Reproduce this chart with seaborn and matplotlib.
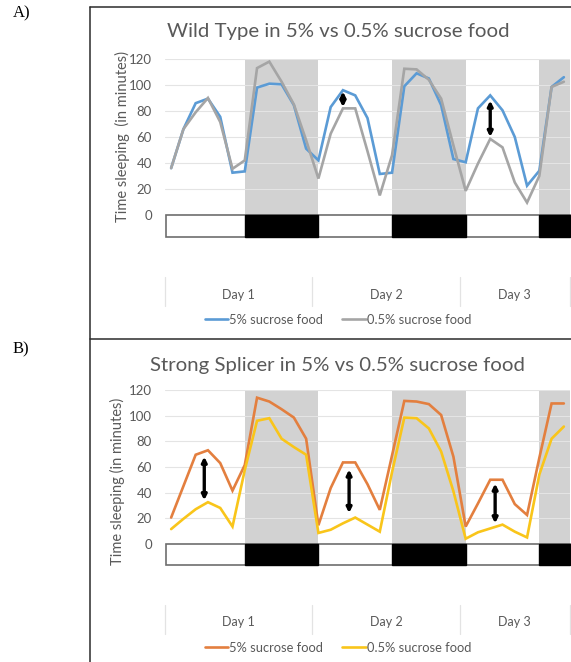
import numpy as np
import pandas as pd
import matplotlib
matplotlib.use("Agg")
import matplotlib.pyplot as plt
from matplotlib.patches import Rectangle
from matplotlib.lines import Line2D
from matplotlib.transforms import blended_transform_factory
import seaborn as sns

# Sleep per 2-hour bin (minutes), 12 bins per day, 33 bins in total
bins_per_day = 12
day_labels = ["Day 1", "Day 2", "Day 3"]
series_names = ["5% sucrose food", "0.5% sucrose food"]

wt_5pct = [36, 66, 86, 89.5, 75.5, 32.5, 33.5, 98, 101, 100.5, 84.5, 51, 42, 83, 96, 92,
           74.5, 31.5, 32.5, 99, 109, 105, 84.5, 43, 40.5, 82, 92, 80.5, 60, 22.5, 34, 98.5, 106]
wt_05pct = [36, 66, 79, 90, 71.5, 35.5, 42, 113, 118, 102.5, 85, 57.5, 28, 62.5, 82, 82,
            49, 15, 46, 112.5, 112, 104, 89.5, 53.5, 18.5, 39.5, 58.5, 52, 25, 9.5, 30, 98.5, 102.5]

ss_5pct = [20.5, 45, 69.5, 73, 63, 41.5, 61.5, 114, 111, 105, 98.5, 82, 14.5, 43.5, 63.5, 63.5,
           46.5, 26.5, 69, 111.5, 111, 109, 100.5, 68, 13.5, 31.5, 50, 50, 31, 22.5, 67, 109.5, 109.5]
ss_05pct = [11.5, 19.5, 27, 32.5, 28, 13.5, 57.5, 96, 98, 82, 75.5, 69.5, 8.5, 11, 16, 20.5,
            15, 9.5, 56, 98.5, 98, 90, 72, 41, 4, 9, 12, 15, 9.5, 5, 54, 82, 91.5]

# Lights-off periods (bin positions)
dark_start = [6, 18, 30]
dark_end = [12, 24, 32.5]

# Differences highlighted with double arrows: (bin, low, high)
wt_arrows = [(14, 83, 95), (26, 60, 88)]
ss_arrows = [(2.7, 34, 68), (14.5, 24, 58), (26.4, 16, 47)]

W, H = 571, 662
sns.set_theme(style="white")
plt.rcParams["font.family"] = ["Lato", "DejaVu Sans"]
fig = plt.figure(figsize=(W / 100, H / 100), dpi=100)
fig.patch.set_facecolor("white")

TXT = "#595959"


def fx(x):
    return x / W


def fy(y):
    return 1 - y / H


def panel(ax_box, a, b, colors, arrows, title, title_y, ylabel, ylabel_xy, ylow,
          day_y, sep_y, legend_y):
    left, top, right, bottom = ax_box
    ax = fig.add_axes([fx(left), fy(bottom), fx(right) - fx(left), fy(top) - fy(bottom)])
    n = len(a)
    df = pd.DataFrame({
        "bin": list(range(n)) * 2,
        "sleep": list(a) + list(b),
        "food": [series_names[0]] * n + [series_names[1]] * n,
    })
    ax.set_xlim(-0.5, n - 0.5)
    ax.set_ylim(ylow, 120)
    for s, e in zip(dark_start, dark_end):
        ax.axvspan(s, e, color="#D2D2D2", lw=0, zorder=0.2)
    ax.set_yticks(range(0, 121, 20))
    ax.grid(axis="y", color="#E4E4E4", lw=0.8)
    ax.set_axisbelow(True)
    sns.lineplot(data=df, x="bin", y="sleep", hue="food", palette=colors, ax=ax,
                 lw=1.9, legend=False, zorder=3)
    for ln in ax.lines:
        ln.set_solid_joinstyle("miter")
    # light/dark bar
    ax.add_patch(Rectangle((-0.45, ylow), n - 0.05, -ylow, facecolor="white",
                           edgecolor="#6E6E6E", lw=1.2, zorder=4, clip_on=False))
    for s, e in zip(dark_start, dark_end):
        ax.add_patch(Rectangle((s, ylow), e - s, -ylow, facecolor="black",
                               edgecolor="black", lw=1, zorder=5, clip_on=False))
    for x, lo, hi in arrows:
        ax.annotate("", xy=(x, hi), xytext=(x, lo),
                    arrowprops=dict(arrowstyle="<|-|>", color="black", lw=2.4,
                                    mutation_scale=7, shrinkA=0, shrinkB=0), zorder=6)
    for sp in ax.spines.values():
        sp.set_visible(False)
    ax.set_xticks([])
    ax.tick_params(axis="y", length=0, pad=9.5, labelsize=9.5, labelcolor=TXT)
    ax.set_xlabel("")
    ax.set_ylabel("")
    fig.text(fx(ylabel_xy[0]), fy(ylabel_xy[1]), ylabel, rotation=90, ha="center",
             va="center", fontsize=10.5, color=TXT)
    fig.text(fx(338), fy(title_y), title, ha="center", va="center", fontsize=14.7, color=TXT)
    # day category axis
    tr = blended_transform_factory(ax.transData, fig.transFigure)
    edges = [-0.5 + i * bins_per_day for i in range(len(day_labels))] + [n - 0.5]
    for ex in edges:
        ax.add_line(Line2D([ex, ex], [fy(sep_y[0]), fy(sep_y[1])], transform=tr,
                           color="#E3E3E3", lw=0.9, clip_on=False))
    for i, lab in enumerate(day_labels):
        cx = (edges[i] + edges[i + 1]) / 2
        ax.text(cx, fy(day_y), lab, transform=tr, ha="center", va="center",
                fontsize=9, color=TXT)
    handles = [Line2D([], [], color=c, lw=1.9) for c in colors]
    fig.legend(handles, series_names, loc="center", bbox_to_anchor=(fx(338), fy(legend_y)),
               ncol=2, frameon=False, fontsize=9.3, handlelength=1.8, handletextpad=0.1,
               columnspacing=1.5, labelcolor=TXT)
    return ax


panel((165, 59, 570, 237), wt_5pct, wt_05pct, ["#5B9BD5", "#A5A5A5"], wt_arrows,
      "Wild Type in 5% vs 0.5% sucrose food", 32, "Time sleeping  (in minutes)",
      (122, 137), -17, 295, (277, 306), 320)
panel((165, 390, 570, 565), ss_5pct, ss_05pct, ["#E37F3F", "#F9C51A"], ss_arrows,
      "Strong Splicer in 5% vs 0.5% sucrose food", 366, "Time sleeping (in minutes)",
      (117, 481), -16.5, 622, (605, 634), 648)

# panel frames and letters
frame = dict(transform=fig.transFigure, color="#2B2B2B", lw=1.1)
fig.add_artist(Line2D([fx(90), fx(90)], [fy(7), fy(H)], **frame))
fig.add_artist(Line2D([fx(90), fx(W)], [fy(7), fy(7)], **frame))
fig.add_artist(Line2D([fx(90), fx(W)], [fy(339), fy(339)], **frame))
fig.text(fx(13), fy(13), "A)", family="Liberation Serif", fontsize=12, va="center", color="black")
fig.text(fx(13), fy(349), "B)", family="Liberation Serif", fontsize=12, va="center", color="black")

fig.savefig("out.png", dpi=100, facecolor="white")
